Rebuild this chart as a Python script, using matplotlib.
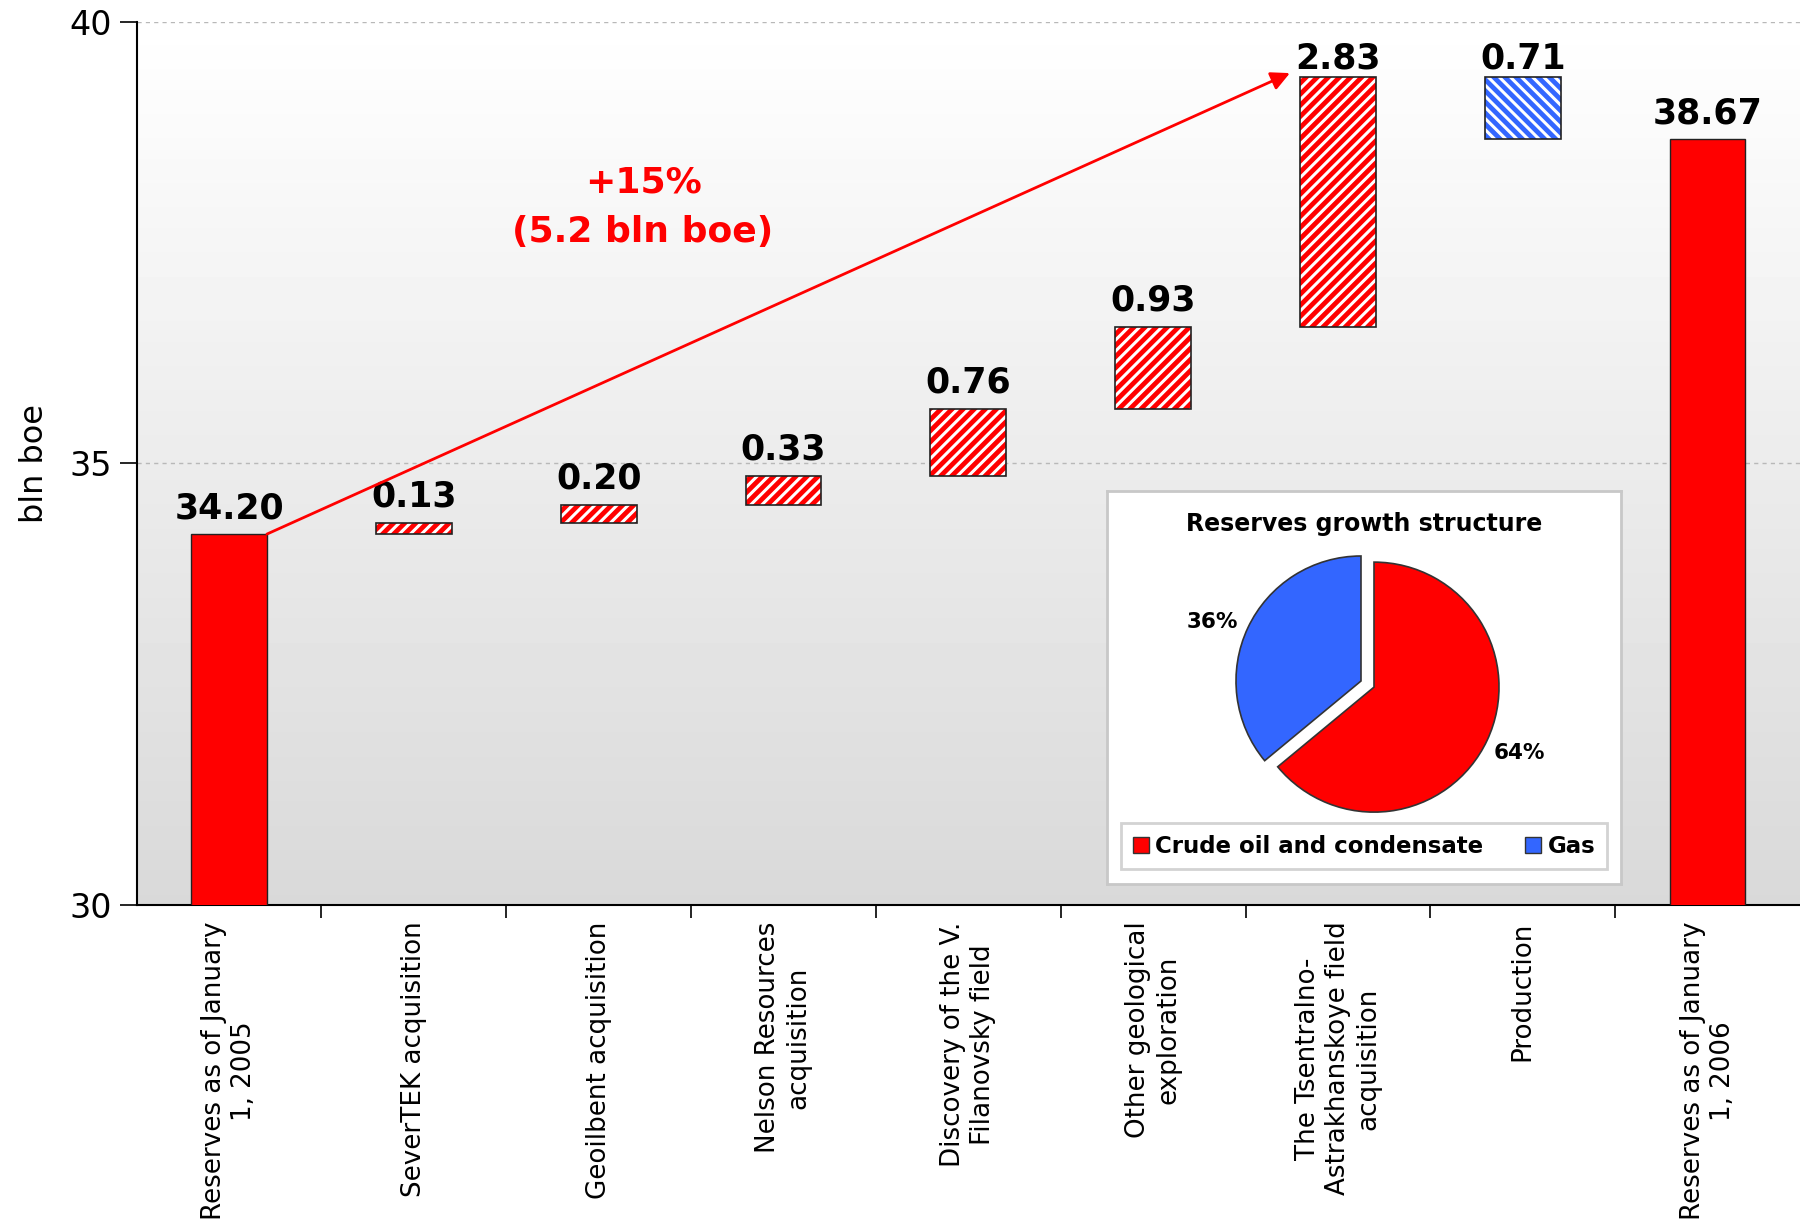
import numpy as np
import matplotlib
matplotlib.use('Agg')
import matplotlib.pyplot as plt
from matplotlib.patches import Patch

plt.rcParams['font.family'] = ['DejaVu Sans']
plt.rcParams['hatch.linewidth'] = 2.2

categories = ["Reserves as of January\n1, 2005", "SeverTEK acquisition",
              "Geoilbent acquisition", "Nelson Resources\nacquisition",
              "Discovery of the V.\nFilanovsky field", "Other geological\nexploration",
              "The Tsentralno-\nAstrakhanskoye field\nacquisition", "Production",
              "Reserves as of January\n1, 2006"]
values = [34.20, 0.13, 0.20, 0.33, 0.76, 0.93, 2.83, -0.71, 38.67]
kinds = ["total", "up", "up", "up", "up", "up", "up", "down", "total"]

pie_labels = ["Gas", "Crude oil and condensate"]
pie_values = [36, 64]

growth_text = "+15%\n(5.2 bln boe)"

RED = '#ff0000'
BLUE = '#3366ff'

fig = plt.figure(figsize=(18, 12.22), dpi=100)
ax = fig.add_axes([0.0759, 0.2594, 0.9241, 0.7227])

# vertical gradient background, white at top to light grey at bottom
grad = np.linspace(1.0, 0.85, 256).reshape(-1, 1)
ax.imshow(grad, extent=[-0.5, 8.5, 30, 40], origin='upper', aspect='auto',
          cmap='gray', vmin=0, vmax=1, zorder=0)

x = np.arange(len(values))
width = 0.41
running = 0.0
for i, (v, k) in enumerate(zip(values, kinds)):
    if k == "total":
        bottom, height = 0, v
        running = v
        ax.bar(i, height, width, bottom=bottom, color=RED,
               edgecolor='#222222', linewidth=1, zorder=3)
    else:
        if k == "up":
            bottom, height = running, v
            fc, hatch = RED, '///'
        else:
            bottom, height = running + v, -v
            fc, hatch = BLUE, '\\\\\\'
        running += v
        ax.bar(i, height, width, bottom=bottom, color=fc,
               edgecolor='none', linewidth=0, zorder=3)
        ax.bar(i, height, width, bottom=bottom, color='none',
               edgecolor='white', hatch=hatch, linewidth=0, zorder=4)
        ax.bar(i, height, width, bottom=bottom, fill=False,
               edgecolor='#222222', linewidth=1.2, zorder=5)
    top = bottom + height
    # labels close to the upper limit sit tighter to their bars
    off = 1 if top > 39 else 6.5
    ax.annotate(f"{abs(v):.2f}", (i, top), xytext=(0, off),
                textcoords='offset points', ha='center', va='bottom',
                fontsize=25, fontweight='bold', zorder=6)

# growth arrow from first total to the top of the largest step
ax.annotate('', xy=(5.74, 39.42), xytext=(width / 2, values[0]),
            arrowprops=dict(arrowstyle='-|>', color=RED, lw=2,
                            mutation_scale=28, shrinkA=0, shrinkB=0),
            zorder=7)
ax.text(2.24, 37.9, growth_text, color=RED, fontsize=26,
        fontweight='bold', ha='center', va='center', linespacing=1.55)

ax.set_xlim(-0.5, 8.5)
ax.set_ylim(30, 40)
ax.set_yticks([30, 35, 40])
ax.tick_params(axis='y', labelsize=24, length=12, width=1.2, direction='out',
               pad=6)
ax.set_ylabel("bln boe", fontsize=23, labelpad=14)

ax.set_xticks(x)
ax.set_xticklabels(categories, rotation=90, ha='center', va='top',
                   multialignment='center', fontsize=18.8)
ax.set_xticks(np.arange(0.5, 8.5, 1), minor=True)
ax.tick_params(axis='x', which='major', length=0, pad=12)
ax.tick_params(axis='x', which='minor', length=9, width=1.2, direction='out')

for y in (35, 40):
    ax.axhline(y, color='#b8b8b8', lw=1, ls=(0, (3, 3)), zorder=1)

ax.spines['top'].set_visible(False)
ax.spines['right'].set_visible(False)
ax.spines['left'].set_linewidth(1.5)
ax.spines['bottom'].set_linewidth(1.5)

# inset panel with reserves growth pie
box = fig.add_axes([0.615, 0.2766, 0.2856, 0.3216])
box.set_facecolor('white')
box.set_xticks([])
box.set_yticks([])
for s in box.spines.values():
    s.set_edgecolor('#c8c8c8')
    s.set_linewidth(2)
box.set_zorder(8)
box.text(0.5, 0.915, "Reserves growth structure", ha='center', va='center',
         fontsize=17, fontweight='bold', transform=box.transAxes)
handles = [Patch(facecolor=RED, edgecolor='#333333', label=pie_labels[1]),
           Patch(facecolor=BLUE, edgecolor='#333333', label=pie_labels[0])]
leg = box.legend(handles=handles, loc='lower center', ncol=2, frameon=True,
                 bbox_to_anchor=(0.5, 0.038), borderaxespad=0,
                 prop={'weight': 'bold', 'size': 16.5}, handlelength=0.7,
                 handleheight=0.7, handletextpad=0.3, columnspacing=1.8,
                 borderpad=0.5, fancybox=False)
leg.get_frame().set_edgecolor('#c8c8c8')
leg.get_frame().set_linewidth(2)

cx, cy, r = 1361, 681, 125
half = 1.45 * r
pax = fig.add_axes([(cx - half) / 1800, 1 - (cy + half) / 1222,
                    2 * half / 1800, 2 * half / 1222])
pax.set_zorder(9)
pax.pie(pie_values, colors=[BLUE, RED], startangle=90, counterclock=True,
        explode=[0, 0.115], radius=1,
        wedgeprops=dict(edgecolor='#333333', linewidth=1.2))
pax.set_xlim(-1.45, 1.45)
pax.set_ylim(-1.45, 1.45)
pax.set_aspect('equal')
pax.axis('off')
pax.text(-1.19, 0.47, f"{pie_values[0]}%", ha='center', va='center',
         fontsize=15.5, fontweight='bold')
pax.text(1.27, -0.575, f"{pie_values[1]}%", ha='center', va='center',
         fontsize=15.5, fontweight='bold')

fig.savefig('out.png', dpi=100)
